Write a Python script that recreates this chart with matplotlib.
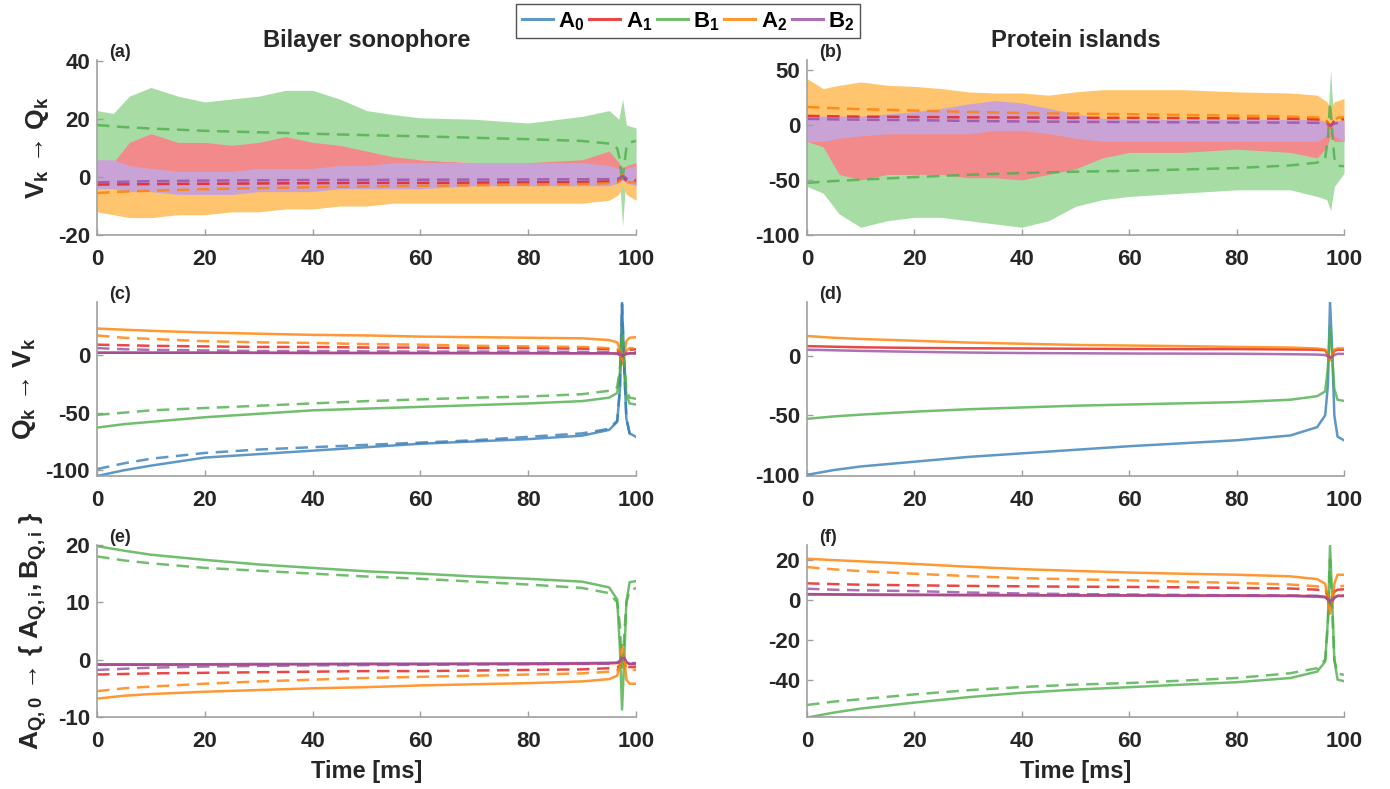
import numpy as np
import matplotlib
matplotlib.use('Agg')
import matplotlib.pyplot as plt
from matplotlib.lines import Line2D

# time grid (ms) for the smooth curves
t = [0, 5, 10, 20, 30, 40, 50, 60, 70, 80, 90, 95, 96.5, 97, 97.4, 97.8, 98.2, 98.8, 100]

# (c) bilayer sonophore, Q_k -> V_k (solid and dashed)
c_A0 = [-105, -100, -96, -89, -86, -83, -80, -77, -75, -73, -70, -65, -58, -30, 46, -10, -55, -68, -71]
c_A0_d = [-99, -94, -90, -85, -82, -80, -78, -76, -74, -71, -68, -64, -57, -30, 44, -10, -55, -68, -71]
c_A1 = [2, 2, 2, 2, 2, 1.8, 1.8, 1.7, 1.7, 1.6, 1.5, 1.5, 1.2, 0, -2, 0, 1, 1.5, 1.5]
c_A1_d = [9, 8.5, 8, 7.5, 7, 7, 6.5, 6.5, 6, 6, 5.5, 5, 4.5, 2, -2, 1, 3, 4.5, 5]
c_B1 = [-63, -60, -58, -54, -51, -48, -46.5, -45, -43.5, -42, -40, -37, -33, -15, 25, -5, -35, -42, -43]
c_B1_d = [-52, -50, -48, -46, -44, -42, -40, -38.5, -37, -36, -34, -31, -28, -12, 20, -5, -30, -37, -38]
c_A2 = [23, 22, 21, 19.5, 18.5, 17.5, 17, 16, 15.5, 15, 14.5, 13, 11, 5, -8, 0, 12, 15, 15.5]
c_A2_d = [17, 15, 14, 12, 11, 10.5, 9.5, 9, 8, 7.5, 7, 6, 5, 2, -5, 0, 4, 6, 6]
c_B2 = [2, 2, 2, 2, 1.8, 1.8, 1.7, 1.7, 1.6, 1.6, 1.5, 1.5, 1.3, 0.5, -1, 0, 1, 1.5, 1.5]
c_B2_d = [6, 5, 4.5, 4, 3.5, 3.5, 3.2, 3, 3, 3, 2.8, 2.6, 2.4, 1, -1, 0.5, 2, 2.5, 2.5]

# (d) protein islands, Q_k -> V_k
d_A0 = [-100, -96, -93, -89, -85, -82, -79, -76, -73.5, -71, -67, -60, -50, -25, 45, 5, -50, -68, -71]
d_A1 = [8, 7.5, 7, 6.5, 6.2, 6, 5.8, 5.6, 5.5, 5.5, 5.2, 5, 4.5, 1, -2, 0, 4, 5, 5]
d_B1 = [-53, -51, -49.5, -47, -45, -43.5, -42, -41, -40, -39, -37, -34, -30, -10, 24, 0, -28, -37, -38]
d_A2 = [16.5, 15, 14, 12.5, 11, 10, 9, 8.5, 8, 7.3, 6.8, 6, 5, 0, -4, 0, 5, 6, 6]
d_B2 = [5, 4.5, 4, 3.2, 2.6, 2.2, 2, 1.8, 1.7, 1.6, 1.2, 0.9, 0.5, -0.5, -2, -1, 0.5, 1.5, 1.5]

# (e) bilayer sonophore, A_Q0 -> {A_Qi, B_Qi}
e_A1 = [-0.9, -0.9, -0.9, -0.85, -0.85, -0.8, -0.8, -0.8, -0.75, -0.75, -0.7, -0.65, -0.6, -0.3, 0.3, 0.2, -0.5, -0.8, -0.8]
e_A1_d = [-2.6, -2.5, -2.4, -2.3, -2.2, -2.1, -2.0, -2.0, -1.9, -1.8, -1.7, -1.5, -1.4, -1, 0, -0.5, -1.2, -1.3, -1.3]
e_B1 = [19.8, 19, 18.3, 17.4, 16.6, 16, 15.4, 15, 14.5, 14.1, 13.6, 12.6, 10.5, 2, -8.7, 0, 10, 13.5, 13.7]
e_B1_d = [18, 17.3, 16.8, 16, 15.5, 15, 14.5, 14.1, 13.6, 13.1, 12.5, 11.6, 10, 6, -2, 4, 10, 12, 12.5]
e_A2 = [-6.8, -6.3, -6, -5.6, -5.3, -5, -4.8, -4.5, -4.3, -4.1, -3.8, -3.4, -2.8, -1, 2.5, 0.5, -3.5, -4.2, -4.2]
e_A2_d = [-5.5, -5, -4.7, -4.2, -3.8, -3.5, -3.2, -3, -2.8, -2.6, -2.4, -2.1, -1.9, -1, 1, 0, -1.5, -1.8, -1.8]
e_B2 = [-0.8, -0.8, -0.8, -0.8, -0.75, -0.75, -0.7, -0.7, -0.7, -0.65, -0.6, -0.55, -0.5, -0.2, 0.5, 0.4, -0.4, -0.7, -0.7]
e_B2_d = [-1.8, -1.6, -1.4, -1.2, -1.1, -1.0, -0.95, -0.9, -0.85, -0.8, -0.75, -0.7, -0.6, -0.3, 0.3, 0.2, -0.5, -0.6, -0.6]

# (f) protein islands, A_Q0 -> {A_Qi, B_Qi}
f_A1 = [2.8, 2.7, 2.6, 2.5, 2.4, 2.3, 2.2, 2.2, 2.1, 2.1, 2, 1.8, 1.5, 0, -3, -1, 1, 2, 2]
f_A1_d = [8.2, 7.8, 7.5, 7.2, 6.9, 6.7, 6.5, 6.4, 6.2, 5.9, 5.6, 5, 4.3, 2, -1, 1, 4, 5, 5.2]
f_B1 = [-59, -56.5, -54.5, -51.5, -48.8, -46.6, -45, -43.8, -42.5, -41.3, -39.2, -36, -31, -10, 27, 0, -30, -40, -40.8]
f_B1_d = [-52.7, -51, -49.8, -47.4, -45.3, -43.7, -42.5, -41.7, -40.5, -39.2, -36.8, -34.3, -30, -12, 20, -5, -30, -37, -37.6]
f_A2 = [20.5, 19.8, 19.2, 17.9, 16.5, 15.3, 14.4, 13.6, 13, 12.5, 11.7, 10.3, 8, 0, -7, -2, 8, 12.5, 12.5]
f_A2_d = [16.3, 15.2, 14.3, 13, 11.8, 10.8, 10.2, 9.7, 9, 8.4, 7.6, 6.7, 5.5, 2, -3, 0, 4, 6.5, 7]
f_B2 = [2.6, 2.5, 2.4, 2.3, 2.2, 2.1, 2.0, 2.0, 1.9, 1.9, 1.8, 1.5, 1.2, 0, -1.5, -0.5, 1, 1.8, 1.8]
f_B2_d = [5.5, 5.0, 4.7, 4.3, 3.6, 3.1, 2.8, 2.6, 2.4, 2.2, 2.1, 1.9, 1.6, 0.5, -1, 0, 1.2, 1.8, 2]

# time grid for the noisy envelopes of (a) and (b)
tn = [0, 3, 6, 10, 15, 20, 25, 30, 35, 40, 45, 50, 55, 60, 70, 80, 90, 95, 96.8, 97.5, 98.2, 100]

# (a) envelopes (low, high)
a_B1_lo = [4, 4, 5, 6, 6, 6, 6, 6, 6, 6, 6, 6, 6, 6, 5, 5, 5, 5, 3, -17, 2, 5]
a_B1_hi = [23, 22, 28, 31, 28, 26, 27, 28, 30, 30, 27, 23, 21.6, 20.5, 20, 18.7, 21, 23, 20, 27, 18, 17]
a_A1_lo = [-4, -8, -2, -1, -1, -1, -1, -2, -2, -3, -3, -3, -3, -3, -3, -3, -3, -3, -3, -3, -3, -3]
a_A1_hi = [5, 5, 12, 15, 12, 12, 11, 12, 14, 12, 11, 9, 7, 6, 5, 5, 6, 9, 5, 3, 4, 5]
a_A2_lo = [-12, -13, -14, -14, -13, -13, -12, -12, -11, -11, -10, -10, -9, -9, -9, -9, -9, -8, -6, -3, -6, -8]
a_A2_hi = [-1, -1, 0, 0, 0, 0, 0, 0, 0, 0, 1, 1, 1, 1, 1, 1, 1, 1, 1, 2, 1, 0]
a_B2_lo = [-4, -4, -5, -5, -6, -6, -6, -5, -5, -5, -4, -4, -4, -4, -3, -3, -3, -3, -2, -1, -2, -3]
a_B2_hi = [6, 6, 4, 3, 2, 2, 2, 3, 3, 3, 4, 4, 5, 5, 5, 5, 5, 4, 3, 3, 3, 4]

# (b) envelopes (low, high)
b_B1_lo = [-56, -62, -81, -93, -87, -84, -84, -87, -90, -93, -87, -74, -68, -65, -62, -59, -59, -65, -68, -78, -56, -44]
b_B1_hi = [-10, -10, -10, -10, -10, -10, -10, -10, -10, -10, -10, -10, -10, -10, -10, -10, -10, -10, -10, 50, -5, -10]
b_A1_lo = [-15, -20, -45, -50, -45, -45, -45, -48, -48, -50, -45, -40, -30, -25, -25, -22, -25, -30, -20, -10, -15, -15]
b_A1_hi = [0, 0, 0, 0, 0, 0, 0, 0, 0, 0, 0, 0, 0, 0, 0, 0, 0, 0, 0, 0, 0, 0]
b_A2_lo = [0, 0, 0, 0, 0, 0, 0, 0, 0, 0, 0, 0, 0, 0, 0, 0, 0, 0, 0, 0, 0, 0]
b_A2_hi = [42, 33, 36, 39, 36, 35, 33, 30, 29, 29, 27, 30, 32, 32, 32, 30, 29, 27, 21, 15, 21, 24]
b_B2_lo = [-15, -15, -12, -10, -8, -8, -8, -8, -5, -5, -8, -12, -15, -15, -15, -15, -15, -15, -10, -5, -10, -15]
b_B2_hi = [8, 8, 8, 8, 10, 12, 15, 19, 22, 20, 15, 10, 6, 5, 5, 5, 5, 5, 3, 0, 3, 5]

# cores
cor = {'A0': '#377eb8', 'A1': '#e41a1c', 'B1': '#4daf4a', 'A2': '#ff7f00', 'B2': '#984ea3'}
cor_faixa = {'A1': '#f28a8c', 'B1': '#a8dca5', 'A2': '#fec46e', 'B2': '#caa3d6'}
rotulos = {'A0': r'$\mathbf{A_0}$', 'A1': r'$\mathbf{A_1}$', 'B1': r'$\mathbf{B_1}$',
           'A2': r'$\mathbf{A_2}$', 'B2': r'$\mathbf{B_2}$'}

plt.rcParams['font.family'] = ['Liberation Sans', 'DejaVu Sans']
plt.rcParams['font.weight'] = 'bold'
plt.rcParams['axes.labelweight'] = 'bold'
plt.rcParams['axes.unicode_minus'] = False
plt.rcParams['mathtext.fontset'] = 'custom'
plt.rcParams['mathtext.rm'] = 'Liberation Sans:bold'
plt.rcParams['mathtext.it'] = 'Liberation Sans:bold'
plt.rcParams['mathtext.bf'] = 'Liberation Sans:bold'

fig = plt.figure(figsize=(13.9, 7.89), dpi=100)

esq = [0.0698, 0.5806]
larg = [0.3878, 0.3863]
linhas = [(0.7022, 0.2218), (0.3967, 0.2205), (0.0913, 0.2180)]

ax = {}
for i, nome in enumerate(['a', 'b', 'c', 'd', 'e', 'f']):
    lin, col = i // 2, i % 2
    ax[nome] = fig.add_axes([esq[col], linhas[lin][0], larg[col], linhas[lin][1]])

lw = 1.8
tr = 0.8
tracejado = (0, (5, 3))

# faixas de ruido (a) e (b)
for nome, faixas in [('a', [('B1', a_B1_lo, a_B1_hi), ('A1', a_A1_lo, a_A1_hi), ('A2', a_A2_lo, a_A2_hi), ('B2', a_B2_lo, a_B2_hi)]),
                     ('b', [('B1', b_B1_lo, b_B1_hi), ('A1', b_A1_lo, b_A1_hi), ('A2', b_A2_lo, b_A2_hi), ('B2', b_B2_lo, b_B2_hi)])]:
    for k, lo, hi in faixas:
        ax[nome].fill_between(tn, lo, hi, color=cor_faixa[k], lw=0)

# tracejadas de (a) e (b)
for nome, series in [('a', [('A1', e_A1_d), ('B1', e_B1_d), ('A2', e_A2_d), ('B2', e_B2_d)]),
                     ('b', [('A1', f_A1_d), ('B1', f_B1_d), ('A2', f_A2_d), ('B2', f_B2_d)])]:
    for k, y in series:
        ax[nome].plot(t, y, color=cor[k], lw=lw, ls=tracejado, alpha=tr)

# (c)
for k, y in [('A0', c_A0), ('A1', c_A1), ('B1', c_B1), ('A2', c_A2), ('B2', c_B2)]:
    ax['c'].plot(t, y, color=cor[k], lw=lw, alpha=tr)
for k, y in [('A0', c_A0_d), ('A1', c_A1_d), ('B1', c_B1_d), ('A2', c_A2_d), ('B2', c_B2_d)]:
    ax['c'].plot(t, y, color=cor[k], lw=lw, ls=tracejado, alpha=tr)

# (d)
for k, y in [('A0', d_A0), ('A1', d_A1), ('B1', d_B1), ('A2', d_A2), ('B2', d_B2)]:
    ax['d'].plot(t, y, color=cor[k], lw=lw, alpha=tr)

# (e) e (f)
for nome, sol, tra in [('e', [('A1', e_A1), ('B1', e_B1), ('A2', e_A2), ('B2', e_B2)],
                        [('A1', e_A1_d), ('B1', e_B1_d), ('A2', e_A2_d), ('B2', e_B2_d)]),
                       ('f', [('A1', f_A1), ('B1', f_B1), ('A2', f_A2), ('B2', f_B2)],
                        [('A1', f_A1_d), ('B1', f_B1_d), ('A2', f_A2_d), ('B2', f_B2_d)])]:
    for k, y in sol:
        ax[nome].plot(t, y, color=cor[k], lw=lw, alpha=tr)
    for k, y in tra:
        ax[nome].plot(t, y, color=cor[k], lw=lw, ls=tracejado, alpha=tr)

# limites e ticks
limites = {'a': (-20, 40.5), 'b': (-100, 59), 'c': (-105, 46), 'd': (-101, 45), 'e': (-10, 20), 'f': (-58.7, 27.4)}
yticks = {'a': [-20, 0, 20, 40], 'b': [-100, -50, 0, 50], 'c': [-100, -50, 0], 'd': [-100, -50, 0],
          'e': [-10, 0, 10, 20], 'f': [-40, -20, 0, 20]}

for nome in ax:
    a = ax[nome]
    a.set_xlim(0, 100)
    a.set_ylim(*limites[nome])
    a.set_xticks([0, 20, 40, 60, 80, 100])
    a.set_yticks(yticks[nome])
    for s in ['top', 'right']:
        a.spines[s].set_visible(False)
    for s in ['left', 'bottom']:
        a.spines[s].set_color('#a0a0a0')
        a.spines[s].set_linewidth(1.2)
    a.tick_params(direction='in', length=4, width=1, color='#a0a0a0', labelcolor='#262626', labelsize=16)
    a.tick_params(axis='x', pad=10)
    a.tick_params(axis='y', pad=5)
    a.text(0.022, 0.995, '(' + nome + ')', transform=a.transAxes, fontsize=13, fontweight='bold',
           ha='left', va='bottom', color='#262626')

ax['a'].set_title('Bilayer sonophore', fontsize=17, fontweight='bold', pad=9, color='#262626')
ax['b'].set_title('Protein islands', fontsize=17, fontweight='bold', pad=9, color='#262626')

ax['a'].set_ylabel(r'$\mathbf{V_k}$ → $\mathbf{Q_k}$', fontsize=19, color='#262626')
ax['c'].set_ylabel(r'$\mathbf{Q_k}$ → $\mathbf{V_k}$', fontsize=19, color='#262626')
ax['e'].set_ylabel(r'$\mathbf{A_{Q,0}}$ → { $\mathbf{A_{Q,i}, B_{Q,i}}$ }', fontsize=19, color='#262626')
ax['a'].yaxis.set_label_coords(-0.085, 0.5)
ax['c'].yaxis.set_label_coords(-0.11, 0.5)
ax['e'].yaxis.set_label_coords(-0.09, 0.5)

ax['e'].set_xlabel('Time [ms]', fontsize=17, fontweight='bold', labelpad=6, color='#262626')
ax['f'].set_xlabel('Time [ms]', fontsize=17, fontweight='bold', labelpad=6, color='#262626')

# legenda
alcas = [Line2D([], [], color=cor[k], lw=2.2, alpha=tr) for k in ['A0', 'A1', 'B1', 'A2', 'B2']]
leg = fig.legend(alcas, [rotulos[k] for k in ['A0', 'A1', 'B1', 'A2', 'B2']], loc='center',
                 bbox_to_anchor=(0.495, 0.973), ncol=5, fontsize=16, frameon=True, fancybox=False,
                 handlelength=1.4, handletextpad=0.25, columnspacing=0.2, borderpad=0.25)
leg.get_frame().set_edgecolor('#262626')
leg.get_frame().set_linewidth(1.0)

fig.savefig('out.png', dpi=100)
